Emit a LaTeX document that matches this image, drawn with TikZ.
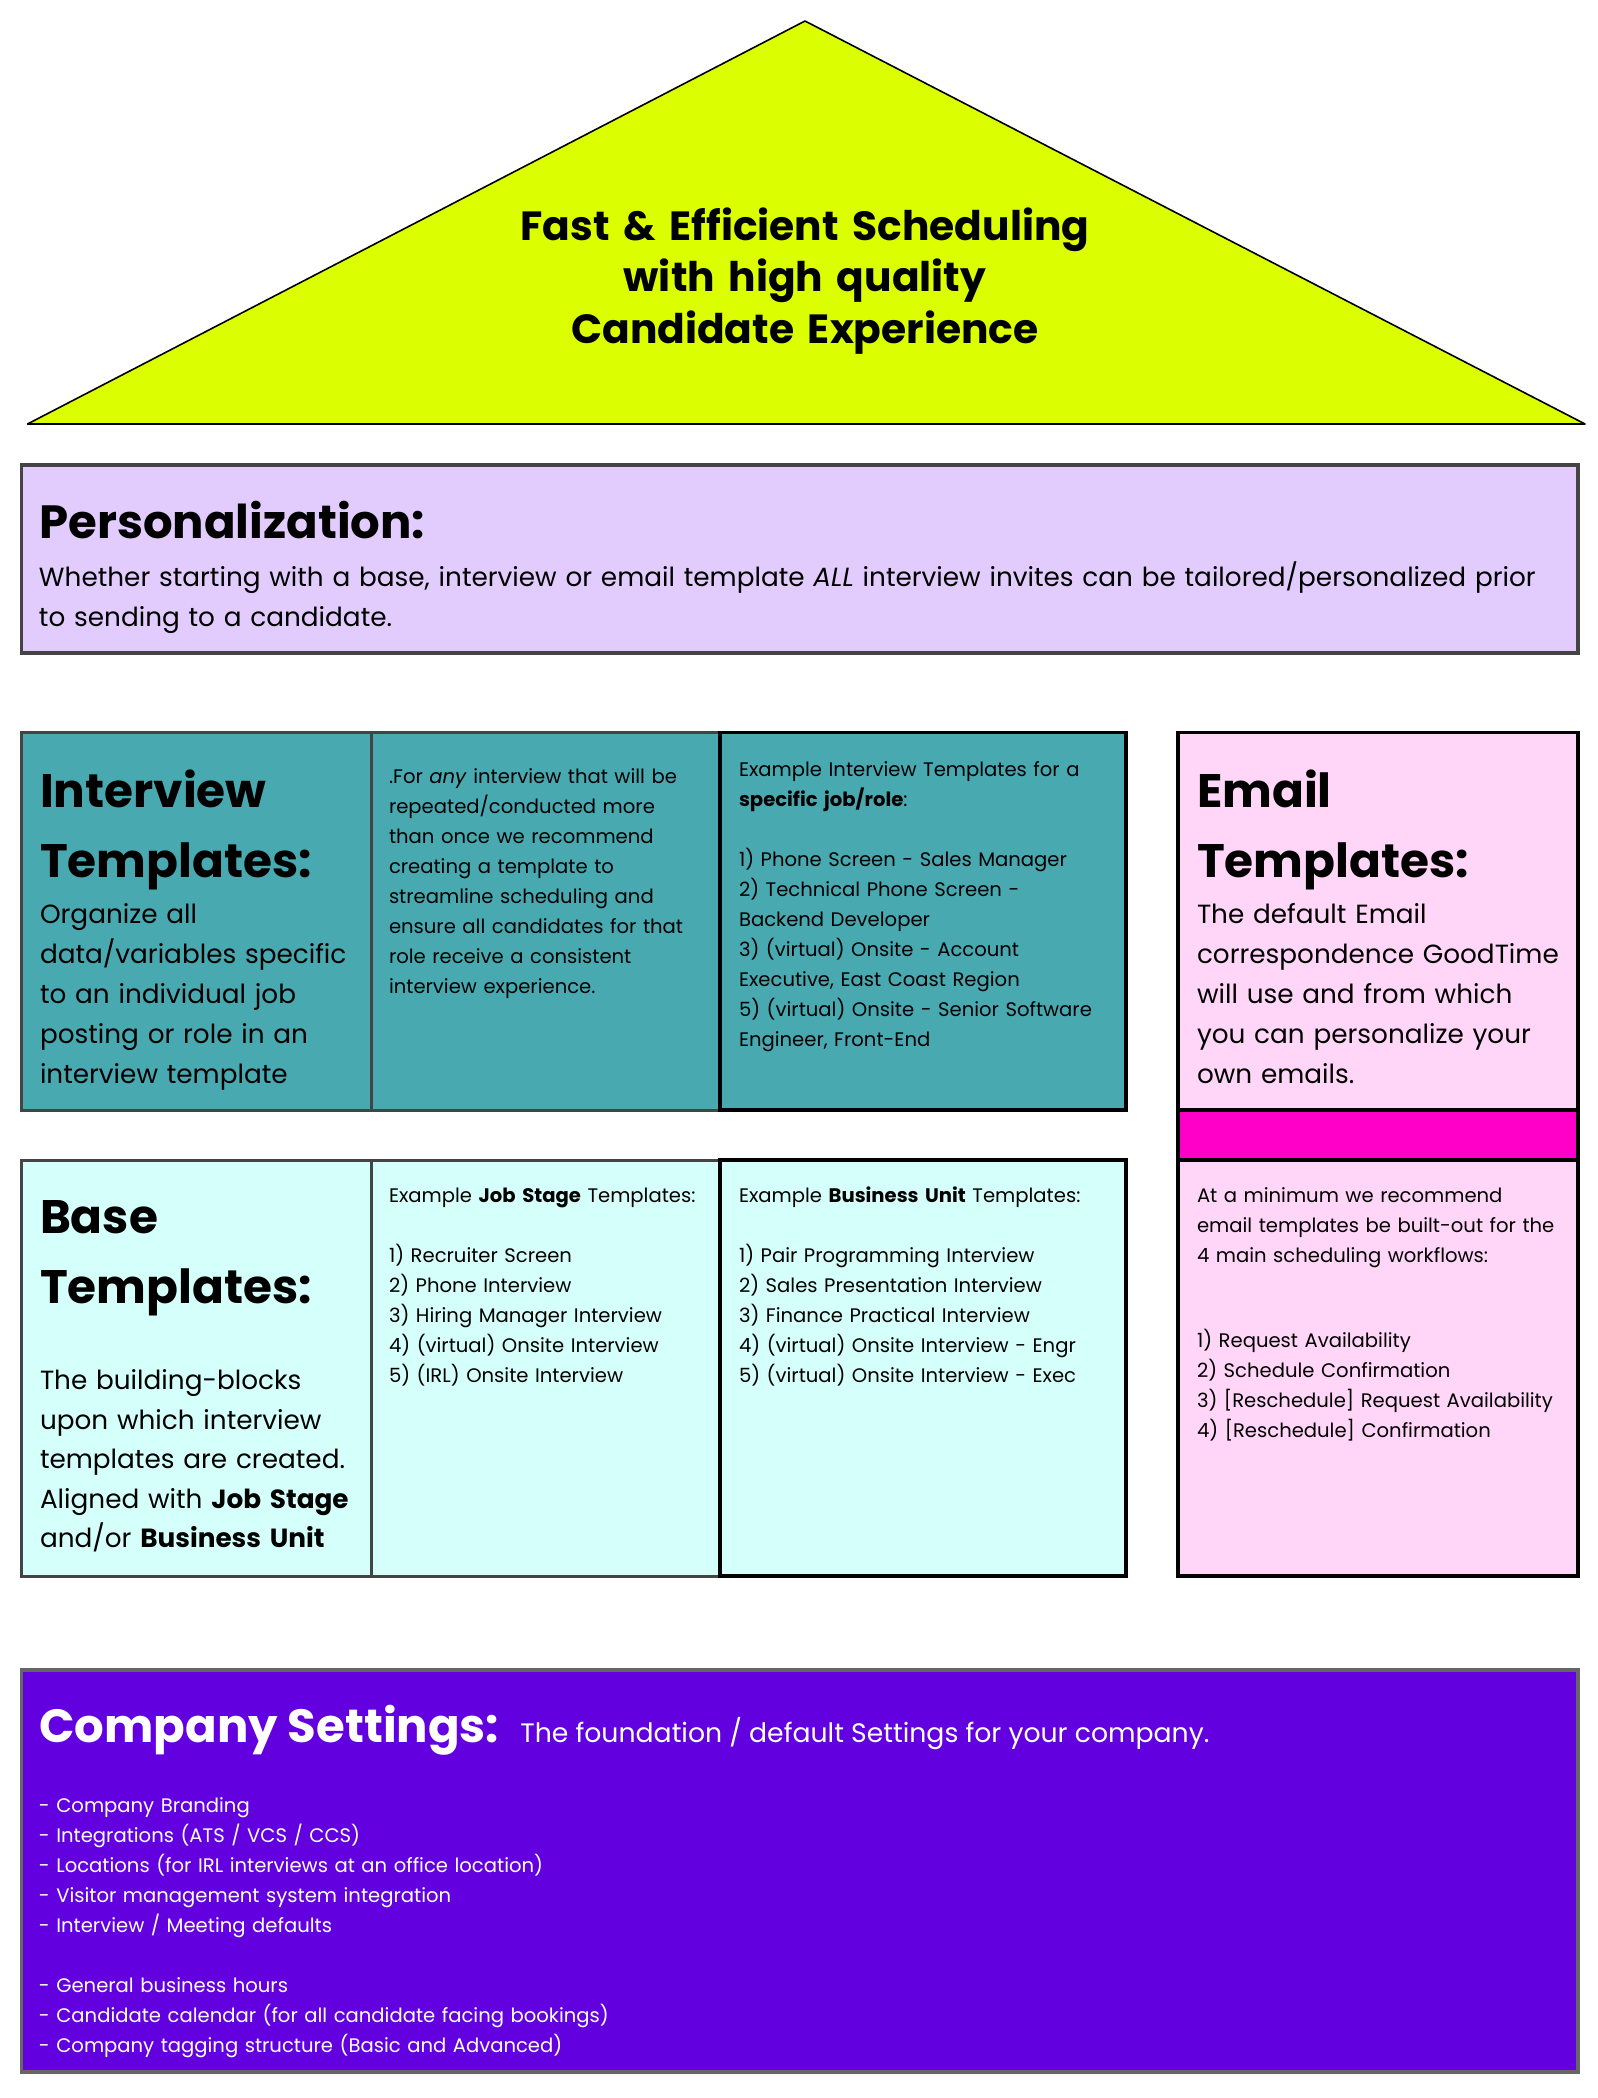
\documentclass[tikz,border=0pt]{standalone}
\usepackage{fontspec}
\setmainfont{Poppins}
\definecolor{tri}{HTML}{DBFF00}
\definecolor{lav}{HTML}{E2CCFE}
\definecolor{teal}{HTML}{48A9B0}
\definecolor{cyanl}{HTML}{D5FFFA}
\definecolor{pinkl}{HTML}{FFD6F8}
\definecolor{magen}{HTML}{FF00C8}
\definecolor{purp}{HTML}{6200DF}
\definecolor{bord}{HTML}{444444}
\definecolor{bordc}{HTML}{666666}
\begin{document}
\begin{tikzpicture}[x=0.5pt,y=-0.5pt,
  txt/.style={inner sep=0pt,outer sep=0pt,anchor=north west,align=left,text width=600pt},
  bigtxt/.style={txt,font=\fontsize{13.15}{20}\selectfont},
  smalltxt/.style={txt,font=\fontsize{9.8}{15}\selectfont},
  headtxt/.style={txt,font=\fontsize{23.5}{35}\selectfont\bfseries},
  cellg/.style={draw=bord,line width=1.5pt},
  cellk/.style={draw=black,line width=1.6pt}]
\useasboundingbox (0,0) rectangle (1598,2098);
% roof
\draw[fill=tri,draw=black,line width=0.8pt,line join=round] (27.5,424) -- (805,21) -- (1585,424) -- cycle;
\node[inner sep=0pt,anchor=north,align=center,text width=700pt,font=\fontsize{20.4}{25.75}\selectfont\bfseries] (title) at (805,204)
  {\strut Fast \& Efficient Scheduling\\ with high quality\\ Candidate Experience};
% personalization
\draw[fill=lav,draw=bord,line width=1.6pt] (21.5,465) rectangle (1578,653);
\node[inner sep=0pt,anchor=base west,font=\fontsize{23.3}{30}\selectfont\bfseries] (pers) at (39,538) {Personalization:};
\node[bigtxt,text width=800pt] (perstxt) at (39,558) {\strut Whether starting with a base, interview or email template \textit{ALL} interview invites can be tailored/personalized prior\\ to sending to a candidate.};
% interview row
\draw[cellg,fill=teal] (21.5,732.5) rectangle (371.5,1110);
\draw[cellg,fill=teal] (371.5,732.5) rectangle (720,1110);
\draw[cellk,fill=teal] (720,732.5) rectangle (1126,1110);
% base row
\draw[cellg,fill=cyanl] (21.5,1160) rectangle (371.5,1576);
\draw[cellg,fill=cyanl] (371.5,1160) rectangle (720,1576);
\draw[cellk,fill=cyanl] (720,1160) rectangle (1126,1576);
% email
\draw[cellk,fill=pinkl] (1178,732.5) rectangle (1578,1576);
\draw[cellk,fill=magen] (1178,1110) rectangle (1578,1160);
% company
\draw[fill=purp,draw=bordc,line width=1.6pt] (21.5,1670) rectangle (1578,2072);

% interview texts
\node[headtxt] (ith) at (40,758) {\strut Interview\\ Templates:};
\node[bigtxt] (itb) at (40,895) {\strut Organize all\\ data/variables specific\\ to an individual job\\ posting or role in an\\ interview template};
\node[smalltxt] (itc2) at (389,762) {\strut .For \textit{any} interview that will be\\ repeated/conducted more\\ than once we recommend\\ creating a template to\\ streamline scheduling and\\ ensure all candidates for that\\ role receive a consistent\\ interview experience.};
\node[smalltxt] (itc3) at (739,755) {\strut Example Interview Templates for a\\ \textbf{specific job/role}:\\[15pt] 1) Phone Screen - Sales Manager\\ 2) Technical Phone Screen -\\ Backend Developer\\ 3) (virtual) Onsite - Account\\ Executive, East Coast Region\\ 5) (virtual) Onsite - Senior Software\\ Engineer, Front-End};
% email texts
\node[headtxt] (eth) at (1197,758) {\strut Email\\ Templates:};
\node[bigtxt] (etb) at (1197,895) {\strut The default Email\\ correspondence GoodTime\\ will use and from which\\ you can personalize your\\ own emails.};
\node[smalltxt] (etl1) at (1197,1181) {\strut At a minimum we recommend\\ email templates be built-out for the\\ 4 main scheduling workflows:};
\node[smalltxt] (etl2) at (1197,1326) {\strut 1) Request Availability\\ 2) Schedule Confirmation\\ 3) [Reschedule] Request Availability\\ 4) [Reschedule] Confirmation};
% base texts
\node[headtxt] (bth) at (40,1184) {\strut Base\\ Templates:};
\node[txt,font=\fontsize{13.15}{19.75}\selectfont] (btb) at (40,1362) {\strut The building-blocks\\ upon which interview\\ templates are created.\\ Aligned with \textbf{Job Stage}\\ and/or \textbf{Business Unit}};
\node[smalltxt] (btc2) at (389,1181) {\strut Example \textbf{Job Stage} Templates:\\[15pt] 1) Recruiter Screen\\ 2) Phone Interview\\ 3) Hiring Manager Interview\\ 4) (virtual) Onsite Interview\\ 5) (IRL) Onsite Interview};
\node[smalltxt] (btc3) at (739,1181) {\strut Example \textbf{Business Unit} Templates:\\[15pt] 1) Pair Programming Interview\\ 2) Sales Presentation Interview\\ 3) Finance Practical Interview\\ 4) (virtual) Onsite Interview - Engr\\ 5) (virtual) Onsite Interview - Exec};
% company texts
\node[inner sep=0pt,anchor=base west,text=white,font=\fontsize{23.3}{30}\selectfont\bfseries] (cs) at (39,1742) {Company Settings:};
\node[inner sep=0pt,anchor=base west,text=white,font=\fontsize{13.35}{20}\selectfont] (cst) at (520,1742) {The foundation / default Settings for your company.};
\node[smalltxt,text=white] (csl) at (39,1791) {\strut - Company Branding\\ - Integrations (ATS / VCS / CCS)\\ - Locations (for IRL interviews at an office location)\\ - Visitor management system integration\\ - Interview / Meeting defaults\\[15pt] - General business hours\\ - Candidate calendar (for all candidate facing bookings)\\ - Company tagging structure (Basic and Advanced)};
\end{tikzpicture}
\end{document}
